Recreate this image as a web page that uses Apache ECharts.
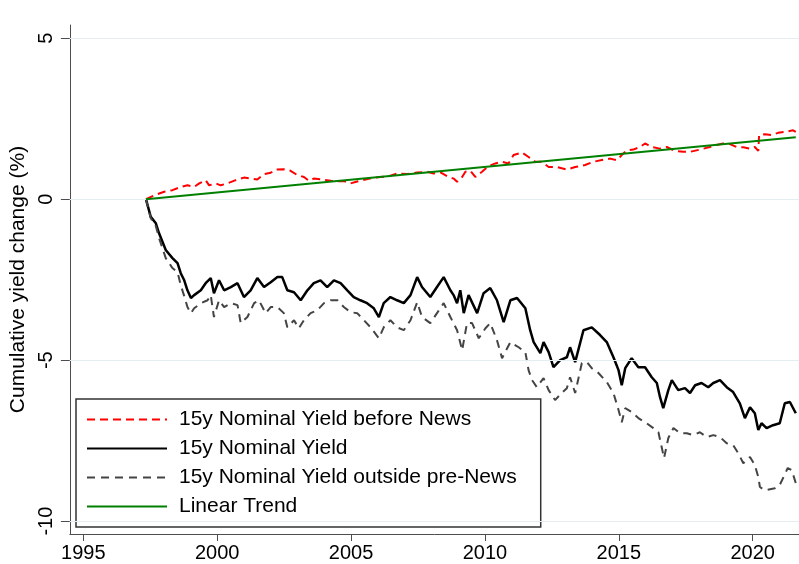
<!DOCTYPE html>
<html>
<head>
<meta charset="utf-8">
<script src="https://cdn.jsdelivr.net/npm/echarts@6/dist/echarts.min.js"></script>
<style>
  html, body { margin: 0; padding: 0; background: #fff; }
  #chart { width: 799px; height: 564px; }
</style>
</head>
<body>
<div id="chart"></div>
<script>
// tick labels
const xTicks = [1995, 2000, 2005, 2010, 2015, 2020]
const yTicks = [-10, -5, 0, 5]

// 15y Nominal Yield before News (red dashed)
const preYears = [1997.34, 1997.65, 1998.02, 1998.33, 1998.64, 1998.89, 1999.14, 1999.33, 1999.57, 1999.70,
  1999.95, 2000.13, 2000.38, 2000.69, 2001.00, 2001.25, 2001.50, 2001.75, 2002.00, 2002.19,
  2002.49, 2002.74, 2002.99, 2003.24, 2003.43, 2003.61, 2003.93, 2004.24, 2004.49, 2004.73,
  2004.98, 2005.23, 2005.54, 2005.85, 2006.10, 2006.41, 2006.72, 2007.10, 2007.47, 2007.84,
  2008.09, 2008.34, 2008.59, 2008.83, 2008.96, 2009.15, 2009.27, 2009.46, 2009.64, 2009.89,
  2010.14, 2010.39, 2010.64, 2010.88, 2011.07, 2011.38, 2011.63, 2011.88, 2012.13, 2012.38,
  2012.69, 2013.06, 2013.37, 2013.74, 2014.05, 2014.43, 2014.68, 2014.93, 2015.11, 2015.30,
  2015.54, 2015.79, 2015.98, 2016.23, 2016.54, 2016.79, 2017.10, 2017.41, 2017.66, 2018.03,
  2018.40, 2018.65, 2018.90, 2019.15, 2019.40, 2019.65, 2019.90, 2020.08, 2020.21, 2020.24,
  2020.46, 2020.70, 2020.95, 2021.20, 2021.51, 2021.61]
const preVals = [0, 0.12, 0.23, 0.28, 0.38, 0.43, 0.38, 0.49, 0.59, 0.43,
  0.49, 0.43, 0.49, 0.59, 0.67, 0.64, 0.61, 0.78, 0.82, 0.92,
  0.93, 0.88, 0.75, 0.69, 0.57, 0.64, 0.61, 0.57, 0.56, 0.56,
  0.49, 0.55, 0.61, 0.67, 0.69, 0.71, 0.80, 0.78, 0.83, 0.85,
  0.80, 0.83, 0.71, 0.64, 0.54, 0.69, 0.85, 0.88, 0.69, 0.85,
  1.03, 1.11, 1.16, 1.11, 1.37, 1.45, 1.31, 1.16, 1.16, 1.00,
  1.00, 0.92, 1.00, 1.06, 1.16, 1.23, 1.26, 1.21, 1.37, 1.52,
  1.54, 1.62, 1.73, 1.62, 1.57, 1.62, 1.50, 1.47, 1.47, 1.54,
  1.62, 1.68, 1.73, 1.71, 1.62, 1.61, 1.57, 1.62, 1.50, 1.99,
  2.02, 1.99, 2.06, 2.09, 2.14, 2.09]

// 15y Nominal Yield (black)
const nomYears = [1997.34, 1997.52, 1997.71, 1997.83, 1998.08, 1998.33, 1998.52, 1998.64, 1998.77, 1998.89,
  1999.02, 1999.14, 1999.39, 1999.57, 1999.76, 1999.88, 2000.07, 2000.26, 2000.51, 2000.76,
  2001.00, 2001.25, 2001.50, 2001.75, 2002.00, 2002.25, 2002.43, 2002.62, 2002.87, 2003.12,
  2003.37, 2003.61, 2003.86, 2004.11, 2004.36, 2004.61, 2004.86, 2005.10, 2005.35, 2005.60,
  2005.85, 2006.04, 2006.22, 2006.47, 2006.72, 2006.97, 2007.22, 2007.47, 2007.65, 2007.96,
  2008.21, 2008.46, 2008.71, 2008.83, 2008.96, 2009.08, 2009.21, 2009.39, 2009.46, 2009.71,
  2009.95, 2010.20, 2010.45, 2010.70, 2010.95, 2011.20, 2011.51, 2011.69, 2011.82, 2012.07,
  2012.19, 2012.38, 2012.56, 2012.81, 2013.06, 2013.18, 2013.37, 2013.68, 2013.99, 2014.30,
  2014.55, 2014.80, 2014.99, 2015.11, 2015.24, 2015.48, 2015.73, 2015.98, 2016.23, 2016.42,
  2016.54, 2016.66, 2016.85, 2016.98, 2017.22, 2017.47, 2017.66, 2017.85, 2018.09, 2018.34,
  2018.53, 2018.78, 2019.03, 2019.27, 2019.52, 2019.71, 2019.90, 2020.08, 2020.21, 2020.33,
  2020.52, 2020.76, 2021.01, 2021.20, 2021.39, 2021.61]
const nomVals = [0, -0.55, -0.75, -1.06, -1.58, -1.83, -1.99, -2.30, -2.52, -2.83,
  -3.07, -2.98, -2.83, -2.61, -2.45, -2.92, -2.52, -2.83, -2.73, -2.61,
  -3.04, -2.83, -2.45, -2.73, -2.58, -2.42, -2.42, -2.83, -2.89, -3.14,
  -2.83, -2.61, -2.52, -2.73, -2.52, -2.61, -2.83, -3.04, -3.14, -3.23,
  -3.39, -3.66, -3.23, -3.04, -3.14, -3.23, -2.98, -2.42, -2.73, -3.04,
  -2.73, -2.42, -2.83, -2.98, -3.23, -2.83, -3.54, -2.98, -2.98, -3.54,
  -2.92, -2.76, -3.14, -3.82, -3.14, -3.07, -3.39, -4.07, -4.44, -4.78,
  -4.44, -4.75, -5.22, -5.00, -4.91, -4.60, -5.06, -4.07, -3.98, -4.22,
  -4.44, -4.91, -5.31, -5.78, -5.25, -4.94, -5.22, -5.22, -5.53, -5.71,
  -6.15, -6.49, -5.93, -5.62, -5.93, -5.87, -6.02, -5.78, -5.71, -5.84,
  -5.71, -5.62, -5.84, -5.99, -6.34, -6.80, -6.46, -6.65, -7.17, -6.96,
  -7.11, -7.02, -6.96, -6.34, -6.30, -6.65]

// 15y Nominal Yield outside pre-News (grey dashed)
const outYears = [1997.34, 1997.52, 1997.71, 1997.83, 1998.08, 1998.33, 1998.52, 1998.64, 1998.77, 1998.89,
  1999.02, 1999.14, 1999.39, 1999.64, 1999.76, 1999.88, 2000.07, 2000.26, 2000.51, 2000.76,
  2000.88, 2001.13, 2001.38, 2001.56, 2001.81, 2002.00, 2002.25, 2002.49, 2002.62, 2002.87,
  2003.05, 2003.24, 2003.49, 2003.74, 2003.99, 2004.24, 2004.49, 2004.73, 2004.98, 2005.23,
  2005.48, 2005.73, 2006.04, 2006.22, 2006.47, 2006.72, 2006.97, 2007.22, 2007.47, 2007.65,
  2007.96, 2008.21, 2008.46, 2008.71, 2008.96, 2009.15, 2009.33, 2009.52, 2009.77, 2010.02,
  2010.20, 2010.45, 2010.64, 2010.95, 2011.26, 2011.51, 2011.63, 2011.76, 2011.94, 2012.19,
  2012.38, 2012.62, 2012.87, 2013.06, 2013.18, 2013.37, 2013.62, 2013.81, 2013.99, 2014.24,
  2014.55, 2014.80, 2014.99, 2015.11, 2015.24, 2015.48, 2015.73, 2016.04, 2016.29, 2016.48,
  2016.60, 2016.69, 2016.85, 2017.04, 2017.29, 2017.54, 2017.78, 2018.03, 2018.28, 2018.53,
  2018.78, 2019.03, 2019.27, 2019.46, 2019.65, 2019.90, 2020.08, 2020.21, 2020.27, 2020.45,
  2020.83, 2021.01, 2021.31, 2021.46, 2021.61]
const outVals = [0, -0.59, -0.84, -1.21, -1.83, -2.14, -2.27, -2.67, -3.01, -3.35,
  -3.54, -3.39, -3.23, -3.14, -2.98, -3.66, -3.14, -3.35, -3.23, -3.29,
  -3.85, -3.66, -3.23, -3.14, -3.54, -3.35, -3.35, -3.54, -3.98, -3.76,
  -4.01, -3.76, -3.54, -3.45, -3.23, -3.14, -3.14, -3.35, -3.51, -3.54,
  -3.76, -3.98, -4.32, -3.98, -3.76, -3.98, -4.07, -3.76, -3.20, -3.66,
  -3.85, -3.54, -3.23, -3.66, -4.07, -4.69, -3.85, -3.85, -4.32, -4.01,
  -3.85, -4.38, -4.94, -4.44, -4.60, -4.75, -5.31, -5.62, -5.84, -5.56,
  -5.93, -6.24, -6.02, -5.87, -5.53, -6.02, -5.09, -5.06, -5.25, -5.40,
  -5.68, -6.02, -6.55, -6.93, -6.49, -6.61, -6.80, -6.96, -7.11, -7.24,
  -7.70, -8.04, -7.42, -7.11, -7.27, -7.27, -7.33, -7.24, -7.39, -7.33,
  -7.39, -7.58, -7.64, -7.89, -8.20, -8.01, -8.26, -8.63, -8.94, -9.04,
  -8.98, -8.88, -8.35, -8.42, -8.82]

// Linear Trend (green)
const trendYears = [1997.34, 2021.61]
const trendVals = [0, 1.92]

const pairs = (xs, ys) => xs.map((x, i) => [x, ys[i]])

const FONT = '"Liberation Sans", Arial, sans-serif'
const AXIS_COLOR = '#4d4d4d'

const chart = echarts.init(document.getElementById('chart'), null, { renderer: 'canvas' })

chart.setOption({
  animation: false,
  backgroundColor: '#fff',
  textStyle: { fontFamily: FONT },
  grid: { left: 69, right: 0, top: 25, bottom: 30 },
  xAxis: {
    type: 'value',
    min: 1994.5,
    max: 2021.73,
    axisLine: { onZero: false, lineStyle: { color: AXIS_COLOR, width: 1 } },
    axisTick: { customValues: xTicks, length: 7, lineStyle: { color: AXIS_COLOR } },
    axisLabel: {
      customValues: xTicks,
      formatter: v => String(v),
      color: '#000',
      fontSize: 20,
      fontFamily: FONT,
      margin: 9
    },
    splitLine: { show: false }
  },
  yAxis: {
    type: 'value',
    min: -10.40,
    max: 5.41,
    name: 'Cumulative yield change (%)',
    nameLocation: 'middle',
    nameRotate: 90,
    nameGap: 39,
    nameTextStyle: { color: '#000', fontSize: 21, fontFamily: FONT },
    axisLine: { show: true, onZero: false, lineStyle: { color: AXIS_COLOR, width: 1 } },
    axisTick: { show: true, customValues: yTicks, length: 9, lineStyle: { color: AXIS_COLOR } },
    axisLabel: {
      customValues: yTicks,
      formatter: v => String(v),
      rotate: 90,
      color: '#000',
      fontSize: 20,
      fontFamily: FONT,
      margin: 13
    },
    splitLine: { show: false }
  },
  legend: {
    data: [
      '15y Nominal Yield before News',
      '15y Nominal Yield',
      '15y Nominal Yield outside pre-News',
      'Linear Trend'
    ],
    orient: 'vertical',
    left: 76,
    top: 399,
    padding: [10, 24, 10, 10],
    itemGap: 8,
    itemWidth: 80,
    itemHeight: 14,
    selectedMode: false,
    backgroundColor: '#fff',
    borderColor: '#333',
    borderWidth: 1.5,
    borderRadius: 0,
    // line samples only, no marker
    itemStyle: { opacity: 0 },
    textStyle: {
      color: '#000',
      fontSize: 21,
      lineHeight: 21,
      fontFamily: FONT,
      padding: [0, 0, 0, 7]
    }
  },
  series: [
    {
      // horizontal grid lines at the y ticks
      name: 'grid',
      type: 'line',
      data: [],
      z: 1,
      silent: true,
      markLine: {
        silent: true,
        symbol: 'none',
        label: { show: false },
        lineStyle: { color: '#e4eef0', width: 1, type: 'solid' },
        data: yTicks.map(v => ({ yAxis: v }))
      }
    },
    {
      name: '15y Nominal Yield before News',
      type: 'line',
      data: pairs(preYears, preVals),
      showSymbol: false,
      symbol: 'none',
      z: 2,
      lineStyle: { color: '#ff0000', width: 2, type: [8, 5] },
      itemStyle: { color: '#ff0000' }
    },
    {
      name: '15y Nominal Yield',
      type: 'line',
      data: pairs(nomYears, nomVals),
      showSymbol: false,
      symbol: 'none',
      z: 3,
      lineStyle: { color: '#000', width: 2.5 },
      itemStyle: { color: '#000' }
    },
    {
      name: '15y Nominal Yield outside pre-News',
      type: 'line',
      data: pairs(outYears, outVals),
      showSymbol: false,
      symbol: 'none',
      z: 4,
      lineStyle: { color: '#444', width: 2, type: [8, 6] },
      itemStyle: { color: '#444' }
    },
    {
      name: 'Linear Trend',
      type: 'line',
      data: pairs(trendYears, trendVals),
      showSymbol: false,
      symbol: 'none',
      z: 5,
      lineStyle: { color: '#008000', width: 2 },
      itemStyle: { color: '#008000' }
    }
  ]
})

window.addEventListener('resize', () => chart.resize())
</script>
</body>
</html>
